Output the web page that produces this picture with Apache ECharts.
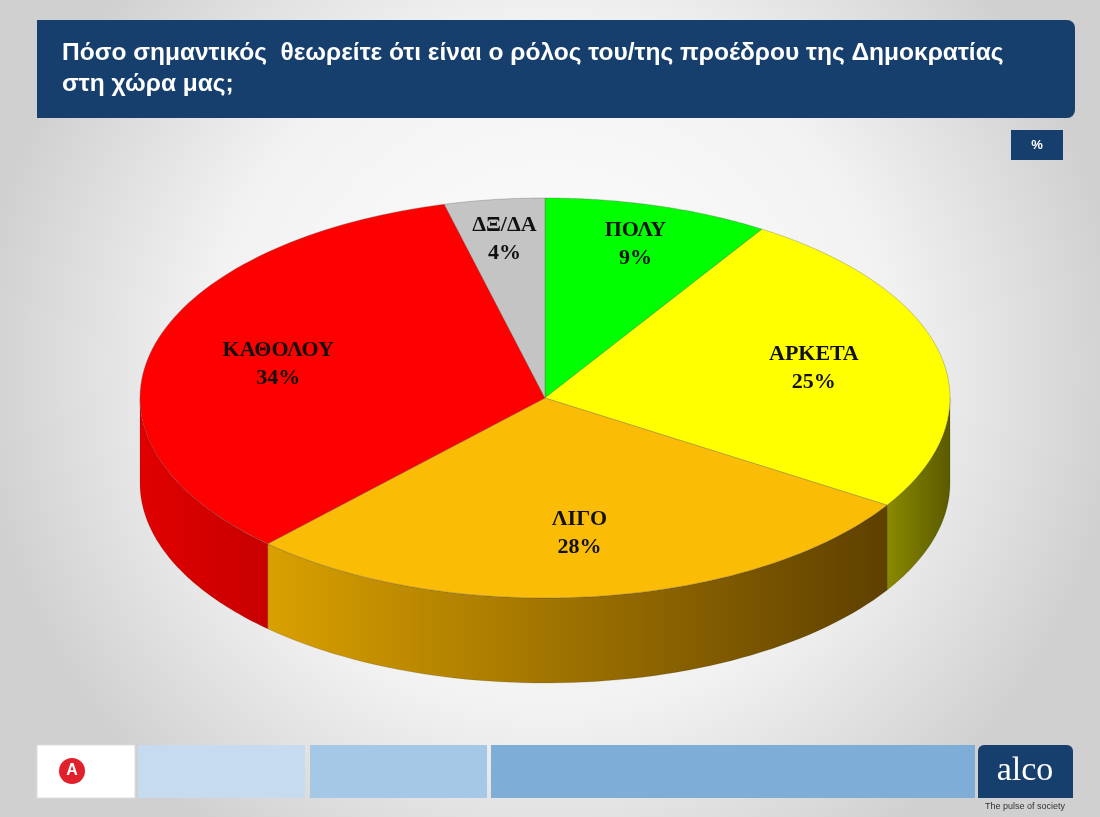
<!DOCTYPE html>
<html><head><meta charset="utf-8">
<script src="https://cdn.jsdelivr.net/npm/echarts@6/dist/echarts.min.js"></script>
<style>html,body{margin:0;padding:0;}#c{width:1100px;height:817px;}</style>
</head><body><div id="c"></div>
<script>
const categories = ['ΠΟΛΥ','ΑΡΚΕΤΑ','ΛΙΓΟ','ΚΑΘΟΛΟΥ','ΔΞ/ΔΑ'];
const values = [9,25,28,34,4];
const topColors = ['#00ff00','#ffff00','#fbbc05','#ff0000','#c4c4c4'];
const sideColors = [['#00a000','#006000'],['#8a8a00','#5a5a00'],['#d9a000','#5e4000'],['#e00000','#c80000'],['#888','#666']];
const titleText = 'Πόσο σημαντικός  θεωρείτε ότι είναι ο ρόλος του/της προέδρου της Δημοκρατίας\nστη χώρα μας;';

const chart = echarts.init(document.getElementById('c'));
const cx=545, cy=398, rx=405, ry=200, depth=85;
const total = values.reduce((a,b)=>a+b,0);
const cum=[0]; values.forEach((v,i)=>cum.push(cum[i]+v));
function pt(t,dy){return [cx+rx*Math.sin(t), cy-ry*Math.cos(t)+(dy||0)];}
function ang(p){return p/total*2*Math.PI;}

function sideItem(params){
  const i=params.dataIndex;
  let t1=ang(cum[i]), t2=ang(cum[i+1]);
  const a=Math.max(t1,Math.PI/2), b=Math.min(t2,3*Math.PI/2);
  if(b<=a) return null;
  const pts=[]; const n=60;
  for(let k=0;k<=n;k++) pts.push(pt(a+(b-a)*k/n,0));
  for(let k=n;k>=0;k--) pts.push(pt(a+(b-a)*k/n,depth));
  return {type:'polygon',shape:{points:pts},style:{fill:new echarts.graphic.LinearGradient(0,0,1,0,[{offset:0,color:sideColors[i][0]},{offset:1,color:sideColors[i][1]}]),stroke:'rgba(0,0,0,0.25)',lineWidth:0.5}};
}
function topItem(params){
  const i=params.dataIndex;
  const t1=ang(cum[i]), t2=ang(cum[i+1]);
  const pts=[[cx,cy]]; const n=80;
  for(let k=0;k<=n;k++) pts.push(pt(t1+(t2-t1)*k/n,0));
  const tm=(t1+t2)/2, f=values[i]<10?0.8:0.68;
  const lp=[cx+rx*f*Math.sin(tm), cy-ry*f*Math.cos(tm)];
  return {type:'group',children:[
    {type:'polygon',shape:{points:pts},style:{fill:topColors[i],stroke:'rgba(80,80,80,0.5)',lineWidth:0.6}},
    {type:'text',x:lp[0],y:lp[1],style:{text:categories[i]+'\n'+values[i]+'%',fill:'#111',font:'bold 22px "Liberation Serif"',align:'center',verticalAlign:'middle',lineHeight:28},z2:10}
  ]};
}
const data = values.map(v=>[v]);
chart.setOption({
  backgroundColor:new echarts.graphic.RadialGradient(0.5,0.45,0.7,[{offset:0,color:'#ffffff'},{offset:0.6,color:'#f2f2f2'},{offset:1,color:'#d0d0d0'}]),
  xAxis:{show:false,min:0,max:1},yAxis:{show:false,min:0,max:1},
  grid:{left:0,right:0,top:0,bottom:0},
  graphic:[
    {type:'rect',shape:{x:37,y:20,width:1038,height:98,r:[0,8,8,0]},style:{fill:'#173f6d'}},
    {type:'text',x:62,y:38,style:{text:titleText,fill:'#fff',font:'bold 24.5px "Liberation Sans"',lineHeight:31}},
    {type:'rect',shape:{x:1011,y:130,width:52,height:30},style:{fill:'#173f6d'}},
    {type:'text',x:1037,y:145,style:{text:'%',fill:'#fff',font:'bold 13px "Liberation Sans"',align:'center',verticalAlign:'middle'}},
    {type:'rect',shape:{x:37,y:745,width:98,height:53},style:{fill:'#fff',stroke:'#ddd'}},
    {type:'circle',shape:{cx:72,cy:771,r:13},style:{fill:'#e0202a'}},
    {type:'text',x:72,y:771,style:{text:'A',fill:'#fff',font:'bold 16px "Liberation Sans"',align:'center',verticalAlign:'middle'}},
    {type:'rect',shape:{x:138,y:745,width:167,height:53},style:{fill:'#c6dbef'}},
    {type:'rect',shape:{x:310,y:745,width:177,height:53},style:{fill:'#a5c8e6'}},
    {type:'rect',shape:{x:491,y:745,width:484,height:53},style:{fill:'#7eaed8'}},
    {type:'rect',shape:{x:978,y:745,width:95,height:53,r:[6,6,0,0]},style:{fill:'#173f6d'}},
    {type:'text',x:1025,y:771,style:{text:'alco',fill:'#fff',font:'34px "Liberation Serif"',align:'center',verticalAlign:'middle'}},
    {type:'text',x:1025,y:807,style:{text:'The pulse of society',fill:'#333',font:'9px "Liberation Sans"',align:'center',verticalAlign:'middle'}}
  ],
  series:[
    {type:'custom',renderItem:sideItem,data:data,z:1,silent:true},
    {type:'custom',renderItem:topItem,data:data,z:2,silent:true}
  ]
});
</script></body></html>
